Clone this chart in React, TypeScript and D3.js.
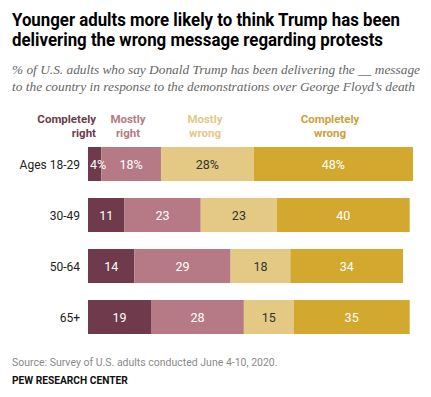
import * as d3 from "d3";
import { useEffect, useRef } from "react";

const groups = ["Ages 18-29", "30-49", "50-64", "65+"];
const seriesNames = ["Completely right", "Mostly right", "Mostly wrong", "Completely wrong"];
const completelyRight = [4, 11, 14, 19];
const mostlyRight = [18, 23, 29, 28];
const mostlyWrong = [28, 23, 18, 15];
const completelyWrong = [48, 40, 34, 35];

const colors = ["#6f3a4b", "#b57a86", "#e3c983", "#d3a82f"];
const legendColors = ["#6e3b4c", "#b47a86", "#dfc98c", "#c9a23b"];
const labelColors = ["#fff", "#fff", "#333", "#fff"];

export default function App() {
  const ref = useRef<SVGGElement>(null);
  const svgWidth = 431,
    svgHeight = 397;

  useEffect(() => {
    const g = d3.select(ref.current);
    g.selectAll("*").remove();

    const series = [completelyRight, mostlyRight, mostlyWrong, completelyWrong];
    const rows = groups.map((name, i) => {
      let acc = 0;
      return {
        name,
        segs: series.map((s, k) => {
          const x0 = acc;
          acc += s[i];
          return { k, v: s[i], x0, x1: acc };
        }),
      };
    });

    const x = d3.scaleLinear().domain([0, 98]).range([88, 413]);
    const y = d3.scaleBand().domain(groups).range([147, 334]).paddingInner(1 / 3).paddingOuter(0);

    // title
    const title = g.append("text").attr("font-family", "Roboto").attr("font-weight", 700).attr("font-size", 18).attr("fill", "#000");
    [
      ["Younger adults more likely to think Trump has been", 388],
      ["delivering the wrong message regarding protests", 371],
    ].forEach(([t, w], i) =>
      title
        .append("tspan")
        .attr("x", 12)
        .attr("y", 26 + i * 20)
        .attr("textLength", w)
        .attr("lengthAdjust", "spacingAndGlyphs")
        .text(t as string)
    );

    const sub = g.append("text").attr("font-family", "Liberation Serif").attr("font-style", "italic").attr("font-size", 13.5).attr("fill", "#666");
    [
      ["% of U.S. adults who say Donald Trump has been delivering the __ message", 408],
      ["to the country in response to the demonstrations over George Floyd\u2019s death", 403],
    ].forEach(([t, w], i) =>
      sub
        .append("tspan")
        .attr("x", 12)
        .attr("y", 74 + i * 17)
        .attr("textLength", w)
        .attr("lengthAdjust", "spacingAndGlyphs")
        .text(t as string)
    );

    // legend
    const legendPos = [
      { x: 96, anchor: "end" },
      { x: 128, anchor: "middle" },
      { x: 205, anchor: "middle" },
      { x: 330, anchor: "middle" },
    ];
    seriesNames.forEach((name, k) => {
      const words = name.split(" ");
      const t = g
        .append("text")
        .attr("font-family", "Roboto")
        .attr("font-weight", 700)
        .attr("font-size", 11.5)
        .attr("fill", legendColors[k])
        .attr("text-anchor", legendPos[k].anchor);
      words.forEach((w, i) => t.append("tspan").attr("x", legendPos[k].x).attr("y", 123 + i * 14).text(w));
    });

    // bars
    const row = g
      .selectAll("g.row")
      .data(rows)
      .join("g")
      .attr("class", "row")
      .attr("transform", (d) => `translate(0,${y(d.name)})`);

    row
      .append("text")
      .attr("x", 80)
      .attr("y", y.bandwidth() / 2 + 4.5)
      .attr("text-anchor", "end")
      .attr("font-family", "Roboto")
      .attr("font-size", 12)
      .attr("fill", "#222")
      .text((d) => d.name);

    row
      .selectAll("rect")
      .data((d) => d.segs)
      .join("rect")
      .attr("x", (d) => x(d.x0))
      .attr("y", 0)
      .attr("width", (d) => x(d.x1) - x(d.x0))
      .attr("height", y.bandwidth())
      .attr("fill", (d) => colors[d.k]);

    row
      .selectAll("text.val")
      .data((d, i) => d.segs.map((s) => ({ ...s, first: i === 0 })))
      .join("text")
      .attr("class", "val")
      .attr("x", (d) => (d.v < 5 ? x(d.x0) + 2 : (x(d.x0) + x(d.x1)) / 2))
      .attr("y", y.bandwidth() / 2 + 4.5)
      .attr("text-anchor", (d) => (d.v < 5 ? "start" : "middle"))
      .attr("font-family", "Roboto")
      .attr("font-size", 12.5)
      .attr("fill", (d) => labelColors[d.k])
      .text((d) => (d.first ? `${d.v}%` : d.v));

    g.append("text")
      .attr("x", 12)
      .attr("y", 366)
      .attr("font-family", "Roboto")
      .attr("font-size", 10.5)
      .attr("fill", "#8a8a8a")
      .text("Source: Survey of U.S. adults conducted June 4-10, 2020.");

    g.append("text")
      .attr("x", 12)
      .attr("y", 384)
      .attr("font-family", "Roboto")
      .attr("font-weight", 700)
      .attr("font-size", 10.2)
      .attr("fill", "#111")
      .text("PEW RESEARCH CENTER");
  }, []);

  return (
    <svg width={svgWidth} height={svgHeight} style={{ position: "absolute", left: 0, top: 0, background: "#fff" }}>
      <g ref={ref}></g>
    </svg>
  );
}
